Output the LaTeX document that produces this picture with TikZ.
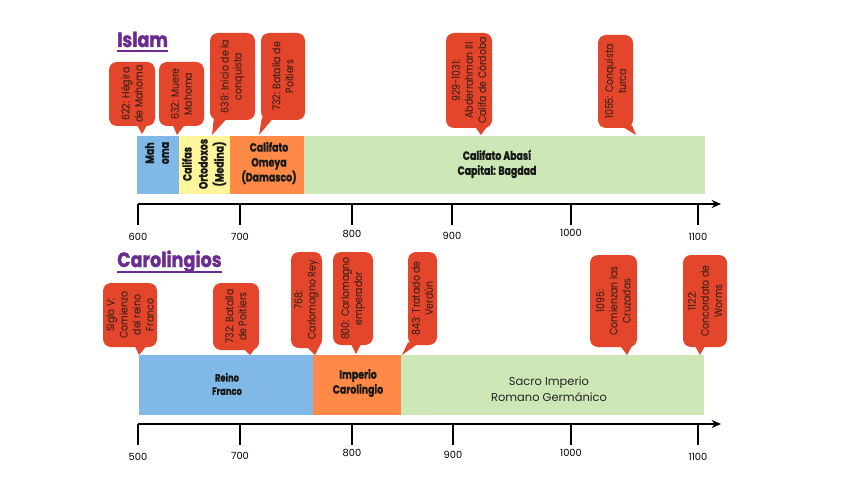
\documentclass[tikz,border=0pt]{standalone}
\usepackage{fontspec}
\usetikzlibrary{arrows.meta,calc}
\setmainfont{Poppins}
\newfontfamily\cfont[FakeStretch=0.87]{Poppins}
\newfontfamily\rfont{Poppins}
\newfontfamily\bfont[FakeStretch=0.78,FakeBold=1.2]{Poppins}
\newfontfamily\tfont[FakeStretch=0.85,FakeBold=1.5]{Poppins}
\definecolor{cred}{HTML}{E3462B}
\definecolor{cblue}{HTML}{80B9E8}
\definecolor{cyellow}{HTML}{FFF69B}
\definecolor{corange}{HTML}{FF8A48}
\definecolor{cgreen}{HTML}{CDE7B6}
\definecolor{cpurple}{HTML}{6B2C90}
\definecolor{ctext}{HTML}{2A1A14}
\tikzset{
  callout/.style={fill=cred, rounded corners=6pt, rotate=90, align=center, inner sep=0pt,
    font=\cfont\fontsize{8.1}{9.8}\selectfont, text=ctext},
  tail/.style={fill=cred},
  blbl/.style={align=center, inner sep=0pt, font=\bfont\bfseries\fontsize{9}{11.2}\selectfont, text=black!90},
  rlbl/.style={align=center, inner sep=0pt, font=\rfont\fontsize{8.6}{12}\selectfont, text=black!85},
  axis/.style={line width=1.5pt, -{Stealth[length=7pt,width=6pt]}},
  tick/.style={line width=1.5pt},
  ticklbl/.style={inner sep=0pt, font=\rfont\fontsize{7.4}{9}\selectfont},
  title/.style={anchor=base west, inner sep=0pt, text=cpurple, font=\tfont\bfseries\fontsize{15.5}{18}\selectfont},
  uline/.style={draw=cpurple, line width=1.4pt}
}
\begin{document}
\begin{tikzpicture}[x=0.75pt,y=-0.75pt]
\useasboundingbox (0,0) rectangle (848,477);
\fill[white] (0,0) rectangle (848,477);

% ===== Islam =====
\node[title] (tisl) at (117,47) {Islam};
\draw[uline] ($(tisl.base west)+(0,4)$) -- ($(tisl.base east)+(0,4)$);

% bars
\fill[cblue]   (137,136) rectangle (179,194);
\fill[cyellow] (179,136) rectangle (230,194);
\fill[corange] (230,136) rectangle (304,194);
\fill[cgreen]  (304,136) rectangle (705,194);
\node[blbl, rotate=90] (lmah) at (157,153) {Mah\\oma};
\node[blbl, rotate=90, font=\bfont\bfseries\fontsize{9}{12}\selectfont] (lcal) at (204,164) {Califas\\Ortodoxos\\(Medina)};
\node[blbl] (lome) at (269,163) {Califato\\Omeya\\(Damasco)};
\node[blbl] (laba) at (497,164) {Califato Abasí\\Capital: Bagdad};

% callouts
\node[callout, minimum width={64*0.75pt}, minimum height={46*0.75pt}] (c1) at (132,94) {622: Hégira\\de Mahoma};
\coordinate (c1t) at (142,134);
\fill[tail] ($(c1.west)+(4,-3)$) -- ($(c1.west)+(16,-3)$) -- (c1t) -- cycle;

\node[callout, minimum width={64*0.75pt}, minimum height={45*0.75pt}] (c2) at (181.5,94) {632: Muere\\Mahoma};
\coordinate (c2t) at (177,135);
\fill[tail] ($(c2.west)+(-9.5,-3)$) -- ($(c2.west)+(4.5,-3)$) -- (c2t) -- cycle;

\node[callout, minimum width={87*0.75pt}, minimum height={45*0.75pt}] (c3) at (232.5,76.5) {639: Inicio de la\\conquista};
\coordinate (c3t) at (212,135);
\fill[tail] ($(c3.west)+(-18.5,-3)$) -- ($(c3.west)+(-4.5,-3)$) -- (c3t) -- cycle;

\node[callout, minimum width={87*0.75pt}, minimum height={44*0.75pt}] (c4) at (283,76.5) {732: Batalla de\\Poitiers};
\coordinate (c4t) at (259,135);
\fill[tail] ($(c4.west)+(-21,-3)$) -- ($(c4.west)+(-9,-3)$) -- (c4t) -- cycle;

\node[callout, minimum width={95*0.75pt}, minimum height={46*0.75pt}] (c5) at (469,80.5) {929-1031:\\Abderrahman III\\Califa de Córdoba};
\coordinate (c5t) at (481,135);
\fill[tail] ($(c5.west)+(5,-3)$) -- ($(c5.west)+(19,-3)$) -- (c5t) -- cycle;

\node[callout, minimum width={93*0.75pt}, minimum height={35*0.75pt}] (c6) at (615.5,81.5) {1055: Conquista\\turca};
\coordinate (c6t) at (636,135);
\fill[tail] ($(c6.west)+(4.5,-3)$) -- ($(c6.west)+(16.5,-3)$) -- (c6t) -- cycle;

% axis
\coordinate (a0) at (138,204);
\coordinate (a1) at (721,204);
\draw[axis] (a0) -- (a1);
\foreach \x/\lab/\ly in {138/600/237, 240/700/237, 352/800/234, 452/900/236, 571/1000/233, 698/1100/237}{
  \coordinate (tt\lab) at (\x,204);
  \draw[tick] (tt\lab) -- ++(0,21);
  \node[ticklbl] (tl\lab) at (\x,\ly) {\lab};
}

% ===== Carolingios =====
\node[title] (tcar) at (117,267) {Carolingios};
\draw[uline] ($(tcar.base west)+(0,5)$) -- ($(tcar.base east)+(0,5)$);

\fill[cblue]   (139,355) rectangle (313,415);
\fill[corange] (313,355) rectangle (401,415);
\fill[cgreen]  (401,355) rectangle (704,415);
\node[blbl, font=\bfont\bfseries\fontsize{8}{10}\selectfont] (lrei) at (227,384) {Reino\\Franco};
\node[blbl] (limp) at (358,383) {Imperio\\Carolingio};
\node[rlbl] (lsac) at (549,389) {Sacro Imperio\\Romano Germánico};

\node[callout, minimum width={64*0.75pt}, minimum height={54*0.75pt}] (d1) at (130,315) {Siglo V:\\Comienzo\\del reino\\Franco};
\coordinate (d1t) at (139,355);
\fill[tail] ($(d1.west)+(4,-3)$) -- ($(d1.west)+(18,-3)$) -- (d1t) -- cycle;

\node[callout, minimum width={67*0.75pt}, minimum height={46*0.75pt}] (d2) at (236,316.5) {732: Batalla\\de Poitiers};
\coordinate (d2t) at (250,355);
\fill[tail] ($(d2.west)+(6,-3)$) -- ($(d2.west)+(20,-3)$) -- (d2t) -- cycle;

\node[callout, minimum width={96*0.75pt}, minimum height={31*0.75pt}] (d3) at (306.5,300) {768:\\Carlomagno Rey};
\coordinate (d3t) at (315,355);
\fill[tail] ($(d3.west)+(-1.5,-3)$) -- ($(d3.west)+(13.5,-3)$) -- (d3t) -- cycle;

\node[callout, minimum width={93*0.75pt}, minimum height={40*0.75pt}] (d4) at (353,298.5) {800: Carlomagno\\emperador};
\coordinate (d4t) at (356,354);
\fill[tail] ($(d4.west)+(-3,-3)$) -- ($(d4.west)+(9,-3)$) -- (d4t) -- cycle;

\node[callout, minimum width={93*0.75pt}, minimum height={29*0.75pt}] (d5) at (422.5,298.5) {843: Tratado de\\Verdún};
\coordinate (d5t) at (402,355);
\fill[tail] ($(d5.west)+(-14.5,-3)$) -- ($(d5.west)+(-2.5,-3)$) -- (d5t) -- cycle;

\node[callout, minimum width={92*0.75pt}, minimum height={47*0.75pt}] (d6) at (613.5,301) {1095:\\Comienzan las\\Cruzadas};
\coordinate (d6t) at (627,355);
\fill[tail] ($(d6.west)+(5.5,-3)$) -- ($(d6.west)+(19.5,-3)$) -- (d6t) -- cycle;

\node[callout, minimum width={92*0.75pt}, minimum height={44*0.75pt}] (d7) at (705,301) {1122:\\Concordato de\\Worms};
\coordinate (d7t) at (700,355);
\fill[tail] ($(d7.west)+(-11,-3)$) -- ($(d7.west)+(1,-3)$) -- (d7t) -- cycle;

% axis
\coordinate (b0) at (138,424);
\coordinate (b1) at (721,424);
\draw[axis] (b0) -- (b1);
\foreach \x/\lab/\ly in {138/500/457, 240/700/456, 352/800/453, 453/900/455, 571/1000/453, 698/1100/457}{
  \coordinate (bt\lab) at (\x,424);
  \draw[tick] (bt\lab) -- ++(0,21);
  \node[ticklbl] (bl\lab) at (\x,\ly) {\lab};
}
\end{tikzpicture}
\end{document}
